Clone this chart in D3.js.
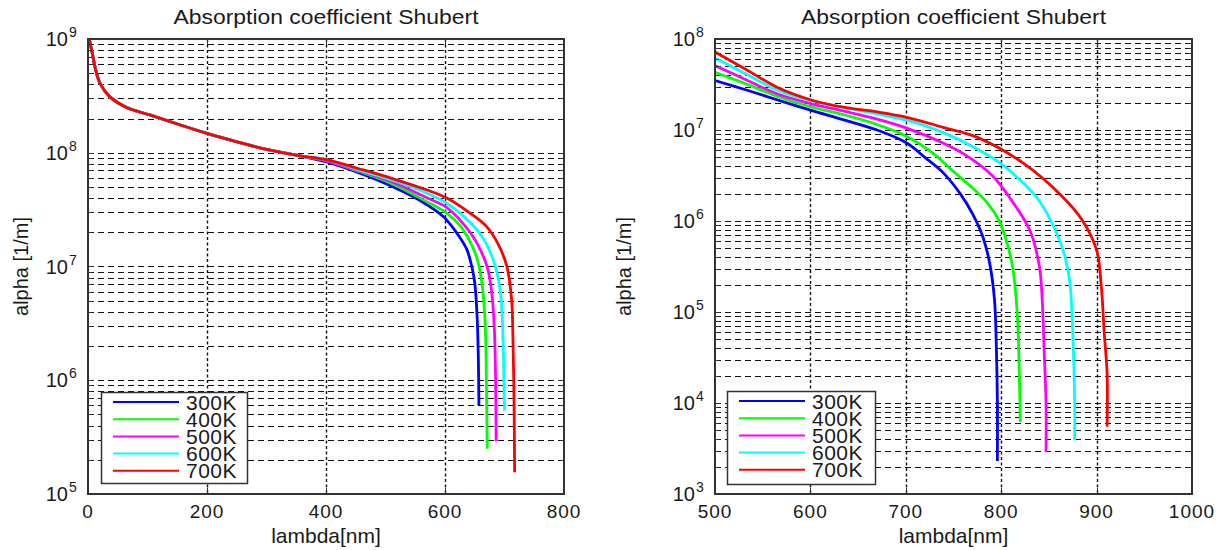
<!DOCTYPE html>
<html>
<head>
<meta charset="utf-8">
<script src="https://cdn.jsdelivr.net/npm/d3@7"></script>
<style>
  html, body { margin: 0; padding: 0; background: #ffffff; }
  svg { display: block; font-family: Arial, "Liberation Sans", Helvetica, sans-serif; }
</style>
</head>
<body>
<svg id="chart" width="1221" height="550"></svg>
<script>
'use strict'

/****** DATA ******/

const TITLE = 'Absorption coefficient Shubert'
const X_LABEL = 'lambda[nm]'
const Y_LABEL = 'alpha [1/m]'

const temps = ['300K', '400K', '500K', '600K', '700K']
const colors = ['#0000ff', '#00ff00', '#ff00ff', '#00ffff', '#ff0000']

const leftXTicks = [0, 200, 400, 600, 800]
const leftYTicks = [5, 6, 7, 8, 9]       // exponents
const rightXTicks = [500, 600, 700, 800, 900, 1000]
const rightYTicks = [3, 4, 5, 6, 7, 8]

// left panel, [lambda nm, alpha 1/m]
const leftCommon = [[2, 1e9], [7, 7.6e8], [12, 5.6e8], [20, 4.1e8], [37, 3.1e8], [65, 2.5e8],
  [104, 2.15e8], [149, 1.8e8], [200, 1.48e8], [255, 1.23e8], [300, 1.07e8], [356, 9.4e7]]
const left300 = [[401, 8.3e7], [457, 6.6e7], [513, 5.0e7], [558, 3.8e7], [597, 2.75e7], [625, 1.8e7],
  [637, 1.4e7], [645, 1.0e7], [650, 7.2e6], [654, 3.6e6], [656, 1.6e6], [657, 6.0e5]]
const left400 = [[401, 8.5e7], [457, 6.8e7], [513, 5.3e7], [570, 3.7e7], [603, 2.95e7], [625, 2.3e7],
  [642, 1.66e7], [655, 1.12e7], [662, 7.2e6], [667, 3.6e6], [669, 1.6e6], [670, 6.3e5], [671, 2.5e5]]
const left500 = [[401, 8.5e7], [457, 6.9e7], [513, 5.5e7], [570, 4.0e7], [603, 3.3e7], [642, 2.0e7],
  [660, 1.38e7], [672, 9.5e6], [679, 5.6e6], [683, 2.8e6], [685, 1.0e6], [686, 2.9e5]]
const left600 = [[401, 8.7e7], [457, 7.0e7], [513, 5.7e7], [570, 4.4e7], [603, 3.6e7], [642, 2.45e7],
  [665, 1.74e7], [683, 1.07e7], [693, 6.0e6], [697, 2.8e6], [699, 1.0e6], [700, 5.4e5]]
const left700 = [[401, 8.7e7], [457, 7.2e7], [513, 5.9e7], [570, 4.7e7], [603, 4.0e7], [642, 2.95e7],
  [670, 2.24e7], [690, 1.55e7], [704, 1.0e7], [712, 5.1e6], [714, 2.6e6], [716, 6.8e5], [717, 1.55e5]]

// right panel
const right300 = [[500, 3.5e7], [533, 2.75e7], [565, 2.15e7], [600, 1.65e7], [634, 1.3e7], [670, 1.0e7],
  [701, 7.2e6], [720, 5.0e6], [739, 3.4e6], [757, 2.0e6], [770, 1.2e6], [781, 6.6e5], [788, 3.4e5],
  [793, 1.35e5], [795, 3.8e4], [796, 1.0e4], [796, 2.3e3]]
const right400 = [[500, 4.3e7], [533, 3.2e7], [565, 2.35e7], [600, 1.8e7], [634, 1.48e7], [670, 1.15e7],
  [701, 8.5e6], [728, 5.6e6], [750, 3.5e6], [770, 2.3e6], [785, 1.6e6], [798, 1.0e6], [805, 6.3e5],
  [812, 3.1e5], [817, 8.9e4], [819, 2.0e4], [820, 6.2e3]]
const right500 = [[500, 5.1e7], [533, 3.55e7], [565, 2.5e7], [600, 1.95e7], [634, 1.62e7], [670, 1.32e7],
  [701, 1.05e7], [739, 7.2e6], [764, 5.2e6], [790, 3.2e6], [809, 1.8e6], [830, 7.9e5], [840, 3.2e5],
  [843, 1.35e5], [845, 3.8e4], [847, 1.0e4], [847, 2.9e3]]
const right600 = [[500, 6.2e7], [533, 4.1e7], [565, 2.75e7], [600, 2.1e7], [634, 1.78e7], [670, 1.5e7],
  [704, 1.26e7], [740, 9.3e6], [770, 6.6e6], [798, 4.4e6], [820, 2.8e6], [840, 1.66e6], [858, 7.4e5],
  [867, 4.0e5], [872, 2.1e5], [875, 5.9e4], [877, 1.07e4], [877, 3.9e3]]
const right700 = [[500, 7.2e7], [533, 4.6e7], [565, 2.95e7], [600, 2.15e7], [634, 1.78e7], [670, 1.58e7],
  [701, 1.38e7], [739, 1.07e7], [775, 8.3e6], [822, 4.4e6], [864, 1.86e6], [885, 1.02e6], [900, 4.8e5],
  [905, 1.86e5], [908, 5.9e4], [911, 2.1e4], [911, 5.5e3]]


/****** PARAMETERS ******/

const panels = [
  { left: 88, right: 564, top: 39, bottom: 494,
    xDomain: [0, 800], yDomain: [1e5, 1e9], xTicks: leftXTicks, yTicks: leftYTicks,
    series: [left300, left400, left500, left600, left700].map(s => leftCommon.concat(s)),
    legend: { x: 101, y: 392, w: 146, h: 91 },
    yLabelX: 28 },
  { left: 715, right: 1192, top: 39, bottom: 494,
    xDomain: [500, 1000], yDomain: [1e3, 1e8], xTicks: rightXTicks, yTicks: rightYTicks,
    series: [right300, right400, right500, right600, right700],
    legend: { x: 727, y: 391, w: 148, h: 93 },
    yLabelX: 631 }
]

const TEXT = '#1a1a1a'
const svg = d3.select('#chart')


/****** FUNCTIONS ******/

function drawPanel(p) {
  const x = d3.scaleLinear().domain(p.xDomain).range([p.left, p.right])
  const y = d3.scaleLog().domain(p.yDomain).range([p.bottom, p.top])
  const g = svg.append('g')

  // values 1..9 per decade on the log axis
  const lo = Math.log10(p.yDomain[0]), hi = Math.log10(p.yDomain[1])
  const minors = []
  for (let e = lo; e < hi; e++) {
    for (let m = 1; m < 10; m++) minors.push(m * Math.pow(10, e))
  }
  const inner = minors.filter(v => v > p.yDomain[0] && v < p.yDomain[1])

  // grid
  g.append('g').selectAll('line')
    .data(inner)
    .join('line')
      .attr('x1', p.left).attr('x2', p.right)
      .attr('y1', d => Math.round(y(d)) + 0.5).attr('y2', d => Math.round(y(d)) + 0.5)
      .attr('stroke', '#111').attr('stroke-width', 1.2)
      .attr('stroke-dasharray', '6,4')

  g.append('g').selectAll('line')
    .data(p.xTicks.slice(1, -1))
    .join('line')
      .attr('x1', d => Math.round(x(d)) + 0.5).attr('x2', d => Math.round(x(d)) + 0.5)
      .attr('y1', p.top).attr('y2', p.bottom)
      .attr('stroke', '#111').attr('stroke-width', 1.4)
      .attr('stroke-dasharray', '3,2.5')

  // curves
  const line = d3.line()
    .x(d => x(d[0]))
    .y(d => y(d[1]))
    .curve(d3.curveCatmullRom.alpha(0.5))

  g.append('g').selectAll('path')
    .data(p.series)
    .join('path')
      .attr('d', line)
      .attr('fill', 'none')
      .attr('stroke', (d, i) => colors[i])
      .attr('stroke-width', 2.8)
      .attr('stroke-linejoin', 'round')

  // ticks inside the box, all four sides
  const ticks = g.append('g').attr('stroke', '#333').attr('stroke-width', 1)
  for (const v of minors.concat([p.yDomain[1]])) {
    const len = Number.isInteger(Math.log10(v)) ? 6 : 4
    const yy = Math.round(y(v)) + 0.5
    ticks.append('line').attr('x1', p.left).attr('x2', p.left + len).attr('y1', yy).attr('y2', yy)
    ticks.append('line').attr('x1', p.right).attr('x2', p.right - len).attr('y1', yy).attr('y2', yy)
  }
  for (const v of p.xTicks) {
    const xx = Math.round(x(v)) + 0.5
    ticks.append('line').attr('x1', xx).attr('x2', xx).attr('y1', p.bottom).attr('y2', p.bottom - 6)
    ticks.append('line').attr('x1', xx).attr('x2', xx).attr('y1', p.top).attr('y2', p.top + 6)
  }

  // box
  g.append('rect')
    .attr('x', p.left).attr('y', p.top)
    .attr('width', p.right - p.left).attr('height', p.bottom - p.top)
    .attr('fill', 'none').attr('stroke', '#333').attr('stroke-width', 2)

  // x tick labels
  g.append('g').selectAll('text')
    .data(p.xTicks)
    .join('text')
      .attr('x', d => x(d)).attr('y', 518)
      .attr('text-anchor', 'middle')
      .attr('font-size', 19).attr('letter-spacing', 1).attr('fill', TEXT)
      .text(d => d)

  // y tick labels: 10 with superscript exponent
  g.append('g').selectAll('text')
    .data(p.yTicks)
    .join('text')
      .attr('x', p.left - 20).attr('y', d => y(Math.pow(10, d)) + 7)
      .attr('text-anchor', 'end')
      .attr('font-size', 20).attr('fill', TEXT)
      .text('10')
  g.append('g').selectAll('text')
    .data(p.yTicks)
    .join('text')
      .attr('x', p.left - 19).attr('y', d => y(Math.pow(10, d)) - 2)
      .attr('font-size', 14).attr('fill', TEXT)
      .text(d => d)

  // title and axis labels
  const cx = (p.left + p.right) / 2
  g.append('text')
    .attr('x', cx).attr('y', 24)
    .attr('text-anchor', 'middle').attr('font-size', 20).attr('fill', TEXT)
    .attr('textLength', 305).attr('lengthAdjust', 'spacingAndGlyphs')
    .text(TITLE)
  g.append('text')
    .attr('x', cx).attr('y', 543)
    .attr('text-anchor', 'middle').attr('font-size', 21).attr('fill', TEXT)
    .text(X_LABEL)
  g.append('text')
    .attr('transform', `translate(${p.yLabelX},${(p.top + p.bottom) / 2}) rotate(-90)`)
    .attr('text-anchor', 'middle').attr('font-size', 20).attr('fill', TEXT)
    .text(Y_LABEL)

  // legend
  const L = p.legend
  const lg = g.append('g')
  lg.append('rect')
    .attr('x', L.x + 0.5).attr('y', L.y + 0.5).attr('width', L.w).attr('height', L.h)
    .attr('fill', '#ffffff').attr('stroke', '#333').attr('stroke-width', 1.5)
  const rows = lg.selectAll('g')
    .data(temps)
    .join('g')
      .attr('transform', (d, i) => `translate(${L.x},${L.y + 10 + i * 17.2})`)
  rows.append('line')
    .attr('x1', 12).attr('x2', 78).attr('y1', 0).attr('y2', 0)
    .attr('stroke', (d, i) => colors[i]).attr('stroke-width', 2)
  rows.append('text')
    .attr('x', 85).attr('y', 7.5)
    .attr('font-size', 21).attr('letter-spacing', 0.5).attr('fill', TEXT)
    .text(d => d)
}

panels.forEach(drawPanel)
</script>
</body>
</html>
